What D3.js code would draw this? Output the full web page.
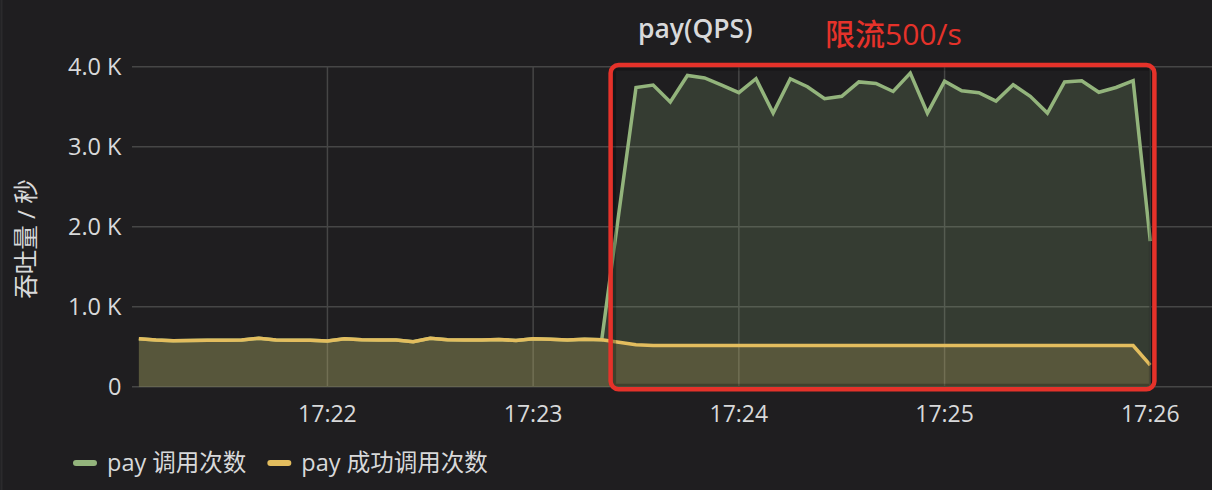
<!DOCTYPE html>
<html><head><meta charset="utf-8">
<script src="https://cdn.jsdelivr.net/npm/d3@7"></script>
<style>
html,body{margin:0;padding:0;background:#1f1e20;overflow:hidden;}
svg{display:block;}
text{font-family:"Open Sans","Noto Sans CJK SC",sans-serif;}
</style></head><body>
<svg id="chart" width="1212" height="490"></svg>
<script>
// ---------- data ----------
const startTime = "17:21:05";
const stepSeconds = 5;
const seriesNames = ["pay 调用次数", "pay 成功调用次数"];
const callCount = [
  600, 585, 575, 578, 580, 582, 585, 605, 585, 580,
  582, 570, 598, 588, 585, 583, 563, 605, 588, 585,
  585, 590, 578, 600, 592, 585, 592, 588,
  2170, 3740, 3770, 3560, 3890, 3860, 3770, 3675, 3850, 3420,
  3850, 3750, 3600, 3630, 3810, 3790, 3690, 3920, 3420, 3820,
  3700, 3675, 3570, 3775, 3630, 3420, 3810, 3825, 3680, 3740,
  3825, 1820
];
const successCount = [
  600, 585, 575, 578, 580, 582, 585, 605, 585, 580,
  582, 570, 598, 588, 585, 583, 563, 605, 588, 585,
  585, 590, 578, 600, 592, 585, 592, 588,
  555, 525, 515, 515, 515, 515, 515, 515, 515, 515,
  515, 515, 515, 515, 515, 515, 515, 515, 515, 515,
  515, 515, 515, 515, 515, 515, 515, 515, 515, 515,
  515, 270
];
const yTicks = [0, 1000, 2000, 3000, 4000];
const xTickLabels = ["17:22", "17:23", "17:24", "17:25", "17:26"];
const timeDomain = ["17:21:03", "17:26:18"];
const valueDomain = [0, 4000];
const chartTitle = "pay(QPS)";
const yAxisTitle = "吞吐量 / 秒";
const annotationText = "限流500/s";
const annotationTimes = ["17:23:22.6", "17:26:01.2"];
const annotationValues = [-32, 4020];

// ---------- helpers ----------
const parseT = s => d3.timeParse(s.includes(".") ? "%H:%M:%S.%L" : "%H:%M:%S")(s.includes(".") ? s.padEnd(12, "0") : s);
const t0 = parseT(startTime);
const rows = callCount.map((v, i) => ({
  t: new Date(t0.getTime() + i * stepSeconds * 1000),
  call: v,
  ok: successCount[i]
}));

// ---------- layout / styles ----------
const W = 1212, H = 490;
const plot = {left: 132, right: 1212, top: 66.7, bottom: 386.7};
const colors = {
  bg: "#1f1e20", grid: "#464646", text: "#d8d9da",
  green: "#93b47c", yellow: "#e3bd5e", red: "#e5322a"
};

const svg = d3.select("#chart");
svg.append("rect").attr("width", W).attr("height", H).attr("fill", colors.bg);
svg.append("line").attr("x1", 1.5).attr("x2", 1.5).attr("y1", 0).attr("y2", H)
  .attr("stroke", "#2b2a2c").attr("stroke-width", 2);

const x = d3.scaleTime().domain(timeDomain.map(parseT)).range([plot.left, plot.right]);
const y = d3.scaleLinear().domain(valueDomain).range([plot.bottom, plot.top]);

// grid
const grid = svg.append("g");
grid.selectAll("line.h").data(yTicks).join("line")
  .attr("x1", plot.left).attr("x2", plot.right)
  .attr("y1", d => y(d)).attr("y2", d => y(d))
  .attr("stroke", colors.grid).attr("stroke-width", 1.5);
grid.selectAll("line.v").data(xTickLabels).join("line")
  .attr("x1", d => x(parseT(d + ":00"))).attr("x2", d => x(parseT(d + ":00")))
  .attr("y1", plot.top).attr("y2", plot.bottom)
  .attr("stroke", colors.grid).attr("stroke-width", 1.5);

// areas
const areaCall = d3.area().x(d => x(d.t)).y0(y(0)).y1(d => y(d.call));
const areaOk = d3.area().x(d => x(d.t)).y0(y(0)).y1(d => y(d.ok));
const lineCall = d3.line().x(d => x(d.t)).y(d => y(d.call));
const lineOk = d3.line().x(d => x(d.t)).y(d => y(d.ok));

svg.append("path").datum(rows).attr("d", areaCall)
  .attr("fill", colors.green).attr("fill-opacity", 0.2);
svg.append("path").datum(rows).attr("d", lineCall)
  .attr("fill", "none").attr("stroke", colors.green).attr("stroke-width", 3.5)
  .attr("stroke-linejoin", "miter");
svg.append("path").datum(rows).attr("d", areaOk)
  .attr("fill", colors.yellow).attr("fill-opacity", 0.2);
svg.append("path").datum(rows).attr("d", lineOk)
  .attr("fill", "none").attr("stroke", colors.yellow).attr("stroke-width", 3.5);

// y axis labels
const fmt = v => v === 0 ? "0" : (v / 1000).toFixed(1) + " K";
svg.append("g").selectAll("text").data(yTicks).join("text")
  .attr("x", 121.5).attr("y", d => y(d) + 8.3)
  .attr("text-anchor", "end").attr("fill", colors.text)
  .attr("font-size", 23.5).text(fmt);

// x axis labels
svg.append("g").selectAll("text").data(xTickLabels).join("text")
  .attr("x", d => x(parseT(d + ":00"))).attr("y", 421.5)
  .attr("text-anchor", "middle").attr("fill", colors.text)
  .attr("font-size", 23).text(d => d);

// y axis title
svg.append("text")
  .attr("transform", "translate(25,239) rotate(-90)")
  .attr("text-anchor", "middle").attr("dominant-baseline", "central")
  .attr("fill", colors.text).attr("font-size", 24.5).text(yAxisTitle);

// title
svg.append("text").attr("x", 638).attr("y", 38)
  .attr("fill", colors.text).attr("font-size", 26.5).attr("font-weight", 600)
  .text(chartTitle);

// annotation
const ax0 = x(parseT(annotationTimes[0])), ax1 = x(parseT(annotationTimes[1]));
const ay0 = y(annotationValues[1]), ay1 = y(annotationValues[0]);
svg.append("rect").attr("x", ax0 + 3).attr("y", ay0 + 3)
  .attr("width", ax1 - ax0 - 6).attr("height", ay1 - ay0 - 6)
  .attr("fill", "none").attr("stroke", "rgba(0,0,0,0.25)").attr("stroke-width", 5);
svg.append("rect").attr("x", ax0).attr("y", ay0)
  .attr("width", ax1 - ax0).attr("height", ay1 - ay0)
  .attr("rx", 8).attr("ry", 8)
  .attr("fill", "none").attr("stroke", colors.red).attr("stroke-width", 4.5);
svg.append("text").attr("x", 825).attr("y", 45)
  .attr("fill", colors.red).attr("font-size", 30).attr("font-weight", 500)
  .attr("font-family", "'Noto Sans CJK SC', sans-serif")
  .text(annotationText);

// legend
const legend = svg.append("g");
let lx = 73;
[colors.green, colors.yellow].forEach((c, i) => {
  legend.append("rect").attr("x", lx).attr("y", 460).attr("width", 24).attr("height", 6)
    .attr("rx", 3).attr("fill", c);
  const t = legend.append("text").attr("x", lx + 34).attr("y", 470.5)
    .attr("fill", colors.text).attr("font-size", 23.5).text(seriesNames[i]);
  lx = lx + 34 + t.node().getComputedTextLength() + 21;
});
</script>
</body></html>
